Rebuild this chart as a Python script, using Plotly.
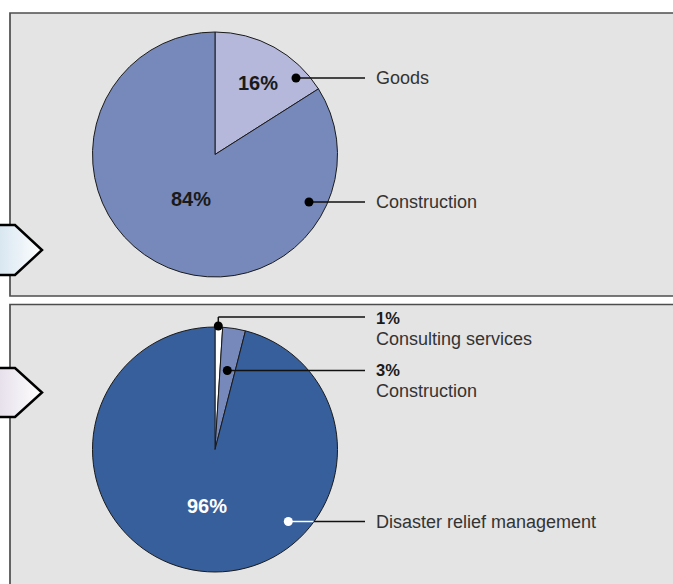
import plotly.graph_objects as go

# ---- data ----
top_labels = ["Goods", "Construction"]
top_values = [16, 84]
top_colors = ["#b5b8da", "#7789bb"]

bottom_labels = ["Consulting services", "Construction", "Disaster relief management"]
bottom_values = [1, 3, 96]
bottom_colors = ["#ffffff", "#7789bb", "#375f9b"]

W, H = 673, 584
FONT = "Liberation Sans, Arial, sans-serif"

def px_dom(x0, x1, y0, y1):
    return dict(x=[x0 / W, x1 / W], y=[1 - y1 / H, 1 - y0 / H])

fig = go.Figure()

# panels (below everything)
shapes = [
    dict(type="rect", xref="x", yref="y", x0=10, x1=W + 20, y0=13, y1=296,
         fillcolor="#e4e4e4", line=dict(color="#4d4d4d", width=1.7), layer="below"),
    dict(type="rect", xref="x", yref="y", x0=10, x1=W + 20, y0=304.5, y1=H + 20,
         fillcolor="#e4e4e4", line=dict(color="#4d4d4d", width=1.7), layer="below"),
]

# left arrows (with gradient)
def arrow(ytop, ybot, c0):
    ym = (ytop + ybot) / 2
    fig.add_trace(go.Scatter(
        x=[-5, 15, 42, 15, -5, -5], y=[ytop, ytop, ym, ybot, ybot, ytop],
        mode="lines", fill="toself",
        fillgradient=dict(type="horizontal", colorscale=[[0, c0], [1, "#ffffff"]]),
        line=dict(color="#000000", width=2.5), hoverinfo="skip", showlegend=False))

arrow(225, 275, "#d4e4f0")
arrow(368, 417, "#e4dde9")

# pies
fig.add_trace(go.Pie(labels=top_labels, values=top_values, sort=False,
                     direction="clockwise", rotation=0,
                     marker=dict(colors=top_colors, line=dict(color="#1a1a1a", width=1)),
                     textinfo="none", hoverinfo="skip", showlegend=False,
                     domain=px_dom(92.5, 337.5, 32, 277)))
fig.add_trace(go.Pie(labels=bottom_labels, values=bottom_values, sort=False,
                     direction="clockwise", rotation=0,
                     marker=dict(colors=bottom_colors, line=dict(color="#1a1a1a", width=1)),
                     textinfo="none", hoverinfo="skip", showlegend=False,
                     domain=px_dom(92.5, 337.5, 327, 572)))

LC = "#111111"
def line(x0, y0, x1, y1, color=LC):
    shapes.append(dict(type="line", xref="x", yref="y", x0=x0, y0=y0, x1=x1, y1=y1,
                       line=dict(color=color, width=1.5), layer="above"))

def dot(cx, cy, color="#000000", r=4.5):
    shapes.append(dict(type="circle", xref="x", yref="y", x0=cx - r, x1=cx + r,
                       y0=cy - r, y1=cy + r, fillcolor=color,
                       line=dict(color=color, width=0), layer="above"))

# leader lines top
line(296, 78, 365, 78); dot(296, 78)
line(309, 202, 365, 202); dot(309, 202)
# leader lines bottom
line(218.3, 326, 218.3, 317); line(218.3, 317, 365, 317); dot(218.3, 326)
line(227.3, 370.5, 365, 370.5); dot(227.3, 370.5)
line(288.3, 521.5, 313.7, 521.5, color="#ffffff"); line(313.7, 521.5, 365, 521.5); dot(288.3, 521.5, "#ffffff")

ann = []
def txt(x, y, s, size=18, color="#333333", bold=False, anchor="left"):
    ann.append(dict(xref="x", yref="y", x=x, y=y, text=f"<b>{s}</b>" if bold else s,
                    showarrow=False, xanchor=anchor, yanchor="middle",
                    font=dict(family=FONT, size=size, color=color)))

# percent labels inside pies
txt(257.7, 83, f"{top_values[0]}%", size=20, color="#1a1a1a", bold=True, anchor="center")
txt(190.5, 198.5, f"{top_values[1]}%", size=20, color="#1a1a1a", bold=True, anchor="center")
txt(207, 505.5, f"{bottom_values[2]}%", size=20, color="#ffffff", bold=True, anchor="center")

# right labels
txt(374, 78, top_labels[0])
txt(374, 202, top_labels[1])
txt(374, 318, f"{bottom_values[0]}%", size=16.5, color="#1a1a1a", bold=True)
txt(374, 338.5, bottom_labels[0])
txt(374, 370, f"{bottom_values[1]}%", size=16.5, color="#1a1a1a", bold=True)
txt(374, 390.5, bottom_labels[1])
txt(374, 521.5, bottom_labels[2])

fig.update_layout(
    width=W, height=H, margin=dict(l=0, r=0, t=0, b=0),
    paper_bgcolor="#ffffff", plot_bgcolor="rgba(0,0,0,0)",
    xaxis=dict(range=[0, W], visible=False, fixedrange=True, domain=[0, 1]),
    yaxis=dict(range=[H, 0], visible=False, fixedrange=True, domain=[0, 1]),
    shapes=shapes, annotations=ann, showlegend=False,
)

fig.write_html("out.html", config={"displayModeBar": False},
               post_script="document.body.style.margin='0';")
